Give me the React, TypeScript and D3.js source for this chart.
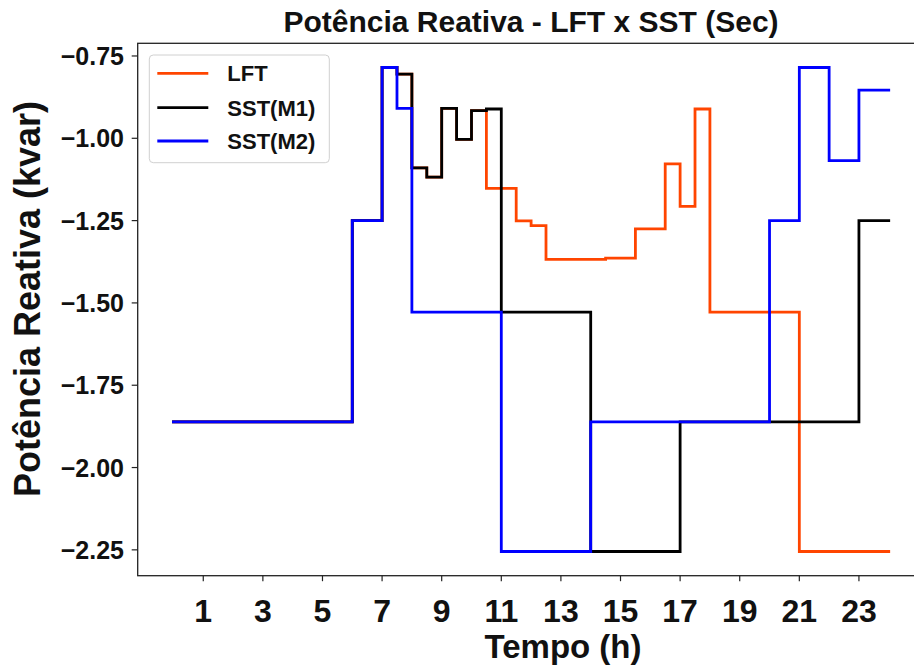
import React, { useRef, useEffect } from "react";
import * as d3 from "d3";

// step breakpoints (hour where each level starts); the last entry closes the step at 24 h
const lftTimes = [0, 6, 7, 7.5, 8, 8.5, 9, 9.5, 10, 10.5, 11.5, 12, 12.5, 14.5, 15.5, 16.5, 17, 17.5, 18, 21, 24];
const lftValues = [-1.861, -1.25, -0.785, -0.805, -1.09, -1.118, -0.909, -1.003, -0.916, -1.152, -1.251, -1.265, -1.368, -1.364, -1.275, -1.078, -1.207, -0.911, -1.528, -2.255, -2.255];

const m1Times = [0, 6, 7, 7.5, 8, 8.5, 9, 9.5, 10, 10.5, 11, 14, 17, 23, 24];
const m1Values = [-1.861, -1.25, -0.785, -0.805, -1.09, -1.118, -0.909, -1.003, -0.916, -0.911, -1.528, -2.255, -1.861, -1.25, -1.25];

const m2Times = [0, 6, 7, 7.5, 8, 11, 14, 20, 21, 22, 23, 24];
const m2Values = [-1.861, -1.25, -0.785, -0.909, -1.528, -2.255, -1.861, -1.25, -0.785, -1.068, -0.854, -0.854];

const seriesNames = ["LFT", "SST(M1)", "SST(M2)"];
const seriesColors = ["#ff4500", "#000000", "#0000ff"];

const xTicks = [1, 3, 5, 7, 9, 11, 13, 15, 17, 19, 21, 23];
const yTicks = [-0.75, -1.0, -1.25, -1.5, -1.75, -2.0, -2.25];

const FONT = "'Liberation Sans', Arial, Helvetica, sans-serif";

const App = () => {
  const ref = useRef<SVGSVGElement>(null);

  useEffect(() => {
    const W = 914;
    const H = 668;
    const left = 137.7;
    const right = 924.5;
    const top = 43.3;
    const bottom = 575.7;

    const svg = d3.select(ref.current).attr("width", W).attr("height", H);
    svg.selectAll("*").remove();

    const series = [
      { name: seriesNames[0], color: seriesColors[0], pts: lftTimes.map((t, i) => [t, lftValues[i]] as [number, number]) },
      { name: seriesNames[1], color: seriesColors[1], pts: m1Times.map((t, i) => [t, m1Values[i]] as [number, number]) },
      { name: seriesNames[2], color: seriesColors[2], pts: m2Times.map((t, i) => [t, m2Values[i]] as [number, number]) },
    ];

    const allPts = series.flatMap(s => s.pts);
    const [x0, x1] = d3.extent(allPts, d => d[0]) as [number, number];
    const [y0, y1] = d3.extent(allPts, d => d[1]) as [number, number];
    const xPad = (x1 - x0) * 0.05;
    const yPad = (y1 - y0) * 0.05;

    const x = d3.scaleLinear().domain([x0 - xPad, x1 + xPad]).range([left, right]);
    const y = d3.scaleLinear().domain([y0 - yPad, y1 + yPad]).range([bottom, top]);

    svg.append("rect").attr("width", W).attr("height", H).attr("fill", "white");

    svg.append("clipPath").attr("id", "plot-clip")
      .append("rect").attr("x", left).attr("y", top).attr("width", right - left).attr("height", bottom - top);

    const line = d3.line<[number, number]>()
      .x(d => x(d[0]))
      .y(d => y(d[1]))
      .curve(d3.curveStepAfter);

    svg.append("g").attr("clip-path", "url(#plot-clip)")
      .selectAll("path")
      .data(series)
      .join("path")
      .attr("d", d => line(d.pts))
      .attr("fill", "none")
      .attr("stroke", d => d.color)
      .attr("stroke-width", 2.8)
      .attr("stroke-linejoin", "miter")
      .attr("stroke-linecap", "square");

    // spines
    svg.append("rect")
      .attr("x", left).attr("y", top)
      .attr("width", right - left).attr("height", bottom - top)
      .attr("fill", "none").attr("stroke", "#222").attr("stroke-width", 1.3);

    // x ticks
    const xg = svg.append("g");
    xg.selectAll("line").data(xTicks).join("line")
      .attr("x1", d => x(d)).attr("x2", d => x(d))
      .attr("y1", bottom).attr("y2", bottom + 5.5)
      .attr("stroke", "#222").attr("stroke-width", 1.2);
    xg.selectAll("text").data(xTicks).join("text")
      .attr("x", d => x(d)).attr("y", 622)
      .attr("text-anchor", "middle")
      .attr("font-family", FONT).attr("font-weight", "bold").attr("font-size", 32)
      .attr("fill", "#111")
      .text(d => String(d));

    // y ticks
    const yg = svg.append("g");
    yg.selectAll("line").data(yTicks).join("line")
      .attr("x1", left - 6).attr("x2", left)
      .attr("y1", d => y(d)).attr("y2", d => y(d))
      .attr("stroke", "#222").attr("stroke-width", 1.2);
    yg.selectAll("text").data(yTicks).join("text")
      .attr("x", 124).attr("y", d => y(d) + 9)
      .attr("text-anchor", "end")
      .attr("font-family", FONT).attr("font-weight", "bold").attr("font-size", 25)
      .attr("fill", "#111")
      .text(d => d3.format(".2f")(d).replace("-", "\u2212"));

    // labels
    svg.append("text")
      .attr("x", 531).attr("y", 32)
      .attr("text-anchor", "middle")
      .attr("font-family", FONT).attr("font-weight", "bold").attr("font-size", 30)
      .attr("fill", "#111")
      .text("Potência Reativa - LFT x SST (Sec)");

    svg.append("text")
      .attr("x", 563).attr("y", 658)
      .attr("text-anchor", "middle")
      .attr("font-family", FONT).attr("font-weight", "bold").attr("font-size", 33)
      .attr("fill", "#111")
      .text("Tempo (h)");

    svg.append("text")
      .attr("transform", `translate(40, 299) rotate(-90)`)
      .attr("text-anchor", "middle")
      .attr("font-family", FONT).attr("font-weight", "bold").attr("font-size", 36)
      .attr("fill", "#111")
      .text("Potência Reativa (kvar)");

    // legend
    const lg = svg.append("g");
    lg.append("rect")
      .attr("x", 149.3).attr("y", 55)
      .attr("width", 180).attr("height", 107.7)
      .attr("rx", 4)
      .attr("fill", "white").attr("fill-opacity", 0.8)
      .attr("stroke", "#d0d0d0").attr("stroke-width", 1);
    const rowY = [73.3, 107.7, 141];
    series.forEach((s, i) => {
      lg.append("line")
        .attr("x1", 157.3).attr("x2", 208.3)
        .attr("y1", rowY[i]).attr("y2", rowY[i])
        .attr("stroke", s.color).attr("stroke-width", 2.8);
      lg.append("text")
        .attr("x", 227.3).attr("y", rowY[i] + 7.8)
        .attr("font-family", FONT).attr("font-weight", "bold").attr("font-size", 22)
        .attr("fill", "#111")
        .text(s.name);
    });
  }, []);

  return <svg ref={ref} style={{ position: "absolute", left: 0, top: 0 }} />;
};

export default App;
